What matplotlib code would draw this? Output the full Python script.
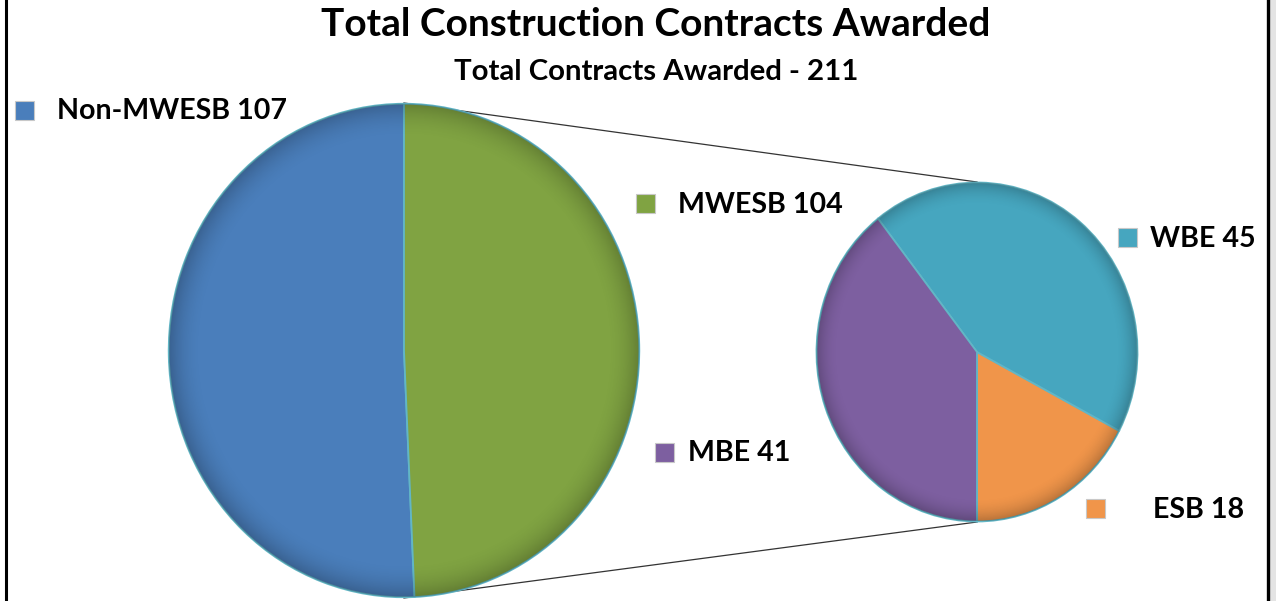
import matplotlib
matplotlib.use('Agg')
import matplotlib.pyplot as plt
from matplotlib.patches import Rectangle, Circle
import numpy as np

# data
title = 'Total Construction Contracts Awarded'
subtitle = 'Total Contracts Awarded - 211'
main_labels = ['Non-MWESB', 'MWESB']
main_values = [107, 104]
sub_labels = ['ESB', 'WBE', 'MBE']
sub_values = [18, 45, 41]

main_colors = ['#4A7EBB', '#80A342']
sub_colors = ['#F0954A', '#46A6BF', '#7D5FA0']
edge = '#62b6c6'

W, H = 1276, 601
fig = plt.figure(figsize=(W / 100, H / 100), dpi=100)
fig.patch.set_facecolor('white')

# overlay axes in pixel coordinates (y down)
ov = fig.add_axes([0, 0, 1, 1], zorder=0)
ov.set_xlim(0, W)
ov.set_ylim(H, 0)
ov.axis('off')

def pie_axes(x0, x1, y0, y1):
    ax = fig.add_axes([x0 / W, (H - y1) / H, (x1 - x0) / W, (y1 - y0) / H], zorder=1)
    ax.patch.set_alpha(0)
    return ax

# soft dark rim like the bevel in the original
g = np.linspace(-1, 1, 400)
gx, gy = np.meshgrid(g, g)
rr = np.sqrt(gx ** 2 + gy ** 2)
shade = np.zeros((400, 400, 4))
shade[..., 3] = np.clip((rr - 0.86) / 0.14, 0, 1) ** 2 * 0.22

def draw_pie(ax, vals, cols, start):
    ax.pie(vals, colors=cols, startangle=start, counterclock=True,
           wedgeprops=dict(edgecolor=edge, linewidth=1.3), frame=True)
    ax.set_aspect('auto')
    ax.set_xlim(-1.003, 1.003)
    ax.set_ylim(-1.003, 1.003)
    im = ax.imshow(shade, extent=(-1, 1, -1, 1), zorder=5, aspect='auto')
    im.set_clip_path(Circle((0, 0), 1, transform=ax.transData))
    ax.axis('off')

big = (168, 640, 103, 598)
ax1 = pie_axes(*big)
draw_pie(ax1, main_values, main_colors, 90)

small = (816, 1138, 182, 522)
ax2 = pie_axes(*small)
draw_pie(ax2, sub_values, sub_colors, 270)

# connector lines
bx = (big[0] + big[1]) / 2
sx = (small[0] + small[1]) / 2
ov.plot([bx, sx], [big[2], small[2]], color='#333333', lw=0.9)
ov.plot([bx, sx], [big[3], small[3]], color='#333333', lw=0.9)

# frame
ov.plot([6, 6], [0, H], color='black', lw=2.2)
ov.plot([1267.5, 1267.5], [0, H], color='black', lw=2.4)
ov.add_patch(Rectangle((1269, 0), 7, H, color='#e4e4e4', lw=0))

font = dict(family='Lato', weight='bold', color='black')
ov.text(656, 25, title, fontsize=28, ha='center', va='center', **font)
ov.text(656, 72, subtitle, fontsize=21.2, ha='center', va='center', **font)

# legend entries: (label, value, color, square x, square y, text x, text y)
entries = [
    (main_labels[0], main_values[0], main_colors[0], 15, 101, 57, 111),
    (main_labels[1], main_values[1], main_colors[1], 636, 194, 678, 205),
    (sub_labels[1], sub_values[1], sub_colors[1], 1118, 228, 1150, 239),
    (sub_labels[2], sub_values[2], sub_colors[2], 655, 443, 688, 453),
    (sub_labels[0], sub_values[0], sub_colors[0], 1086, 499, 1153, 510),
]
for lab, val, col, qx, qy, tx, ty in entries:
    ov.add_patch(Rectangle((qx, qy), 19, 19, facecolor=col, edgecolor='#c8c8c8', lw=0.8))
    ov.text(tx, ty, f'{lab} {val}', fontsize=20.6, ha='left', va='center', **font)

fig.savefig('out.png', dpi=100, facecolor='white')
